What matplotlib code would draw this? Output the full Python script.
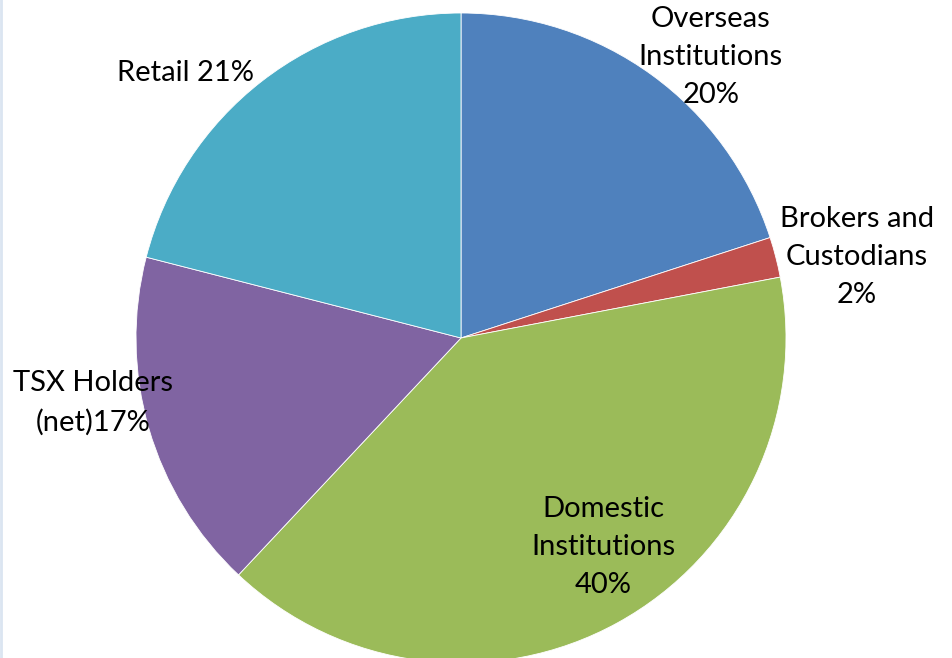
import matplotlib
matplotlib.use("Agg")
import matplotlib.pyplot as plt

categories = ["Overseas\nInstitutions", "Brokers and\nCustodians", "Domestic\nInstitutions",
              "TSX Holders\n(net)", "Retail"]
values = [20, 2, 40, 17, 21]
label_seps = ["\n", "\n", "\n", "", " "]
colors = ["#4F81BD", "#C0504D", "#9BBB59", "#8064A2", "#4BACC6"]

# label anchor points in pie units (radius = 1)
label_pos = [(0.769, 0.865), (1.218, 0.249), (0.437, -0.643), (-1.132, -0.200), (-0.849, 0.815)]

W, H, DPI = 953, 658, 100
cx, cy, R = 461, 338, 325

fig = plt.figure(figsize=(W / DPI, H / DPI), dpi=DPI)
fig.patch.set_facecolor("white")
ax = fig.add_axes([0, 0, 1, 1])

ax.pie(values, colors=colors, startangle=90, counterclock=False, radius=1.0,
       wedgeprops=dict(edgecolor="white", linewidth=0.6), frame=True)
ax.set_xlim(-cx / R, (W - cx) / R)
ax.set_ylim(-(H - cy) / R, cy / R)
ax.set_aspect("auto")
ax.axis("off")

for cat, val, sep, (x, y) in zip(categories, values, label_seps, label_pos):
    ax.text(x, y, f"{cat}{sep}{val}%", ha="center", va="center", fontsize=21,
            family="Lato", linespacing=1.57, color="black")

# faint frame line along the left edge
fig.add_artist(plt.Line2D([0.001, 0.001], [0, 1], transform=fig.transFigure,
                          color="#dbe5f1", linewidth=2))

fig.savefig("out.png", dpi=DPI, facecolor="white")
